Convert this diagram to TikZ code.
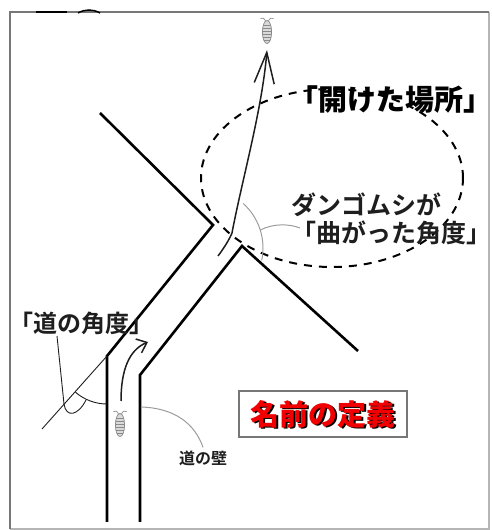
\documentclass[tikz,border=0pt]{standalone}
\usepackage{fontspec}
\usepackage{xcolor}
\usetikzlibrary{arrows.meta}
\newfontfamily\jpmid{Noto Sans CJK JP Medium}
\newfontfamily\jpbold{Noto Sans CJK JP Bold}
\newfontfamily\jpheavy{Noto Sans CJK JP Black}
\definecolor{PicFrame}{HTML}{777777}
\definecolor{PicEdge}{HTML}{B5B5B5}
\definecolor{PicGrey}{HTML}{9C9C9C}
\definecolor{PicInk}{HTML}{1E1E1E}
\definecolor{PicRed}{HTML}{F00000}
\definecolor{BugBody}{HTML}{DADADA}
\definecolor{BugLine}{HTML}{8A8A8A}

\tikzset{
  wall/.style={line width=2.6pt,line join=miter},
  track/.style={PicInk,line width=1.5pt,
    -{Straight Barb[length=9pt,width=15pt,line width=1.5pt]}},
  longtrack/.style={PicInk,line width=1.5pt,
    -{Straight Barb[length=31pt,width=20pt,line width=1.5pt]}},
  thinline/.style={PicInk,line width=0.9pt},
  greyline/.style={PicGrey,line width=1pt},
  openzone/.style={line width=2pt,dash pattern=on 8pt off 7pt},
  bug/.pic={
    \begin{scope}
      \clip (0,0) ellipse[x radius=4.6,y radius=11.5];
      \fill[BugBody] (-5,-12) rectangle (5,12);
      \foreach \k in {-8,-5,...,9}
        \draw[BugLine,line width=0.5pt] (-5,\k) -- (5,\k);
    \end{scope}
    \draw[BugLine,line width=0.7pt] (0,0) ellipse[x radius=4.6,y radius=11.5];
    \draw[BugLine,line width=0.7pt] (-1.5,11.3) .. controls (-2.5,14) and (-4.5,14.5) .. (-6.5,13.5);
    \draw[BugLine,line width=0.7pt] (1.5,11.3) .. controls (2.5,14) and (4.5,14.5) .. (6.5,13.5);
  }
}

\begin{document}
\begin{tikzpicture}[x=1pt,y=1pt]
\path[use as bounding box] (0,0) rectangle (491,530);
\draw[PicEdge,line width=1.2pt] (489,518) -- (489,1) -- (10,1);
\draw[PicFrame,line width=1.4pt] (10,1) -- (10,518) -- (489,518);
\draw[black,line width=2pt] (36,518) -- (67,518);
\draw[black,line width=1.5pt] (78,517) .. controls (85,521) and (93,521) .. (100,517);

\draw[wall] (107,8) -- (107,174) -- (213,305) -- (100,417);
\draw[wall] (140,8) -- (140,155) -- (242,284) -- (358,179);

\draw[openzone] (332,352) ellipse[x radius=131,y radius=89];

\pic at (120,105) {bug};
\pic at (267,498) {bug};

\coordinate (startpt) at (121,129);
\coordinate (turnpt) at (148,188);
\draw[track] (startpt) .. controls (121,160) and (129,180) .. (turnpt);

\coordinate (exitfoot) at (218,274);
\coordinate (exitbend) at (232,297);
\coordinate (exittop) at (267,480);
\draw[longtrack] (exitfoot) .. controls (224,282) and (229,290) .. (exitbend)
  .. controls (242,350) and (262,420) .. (exittop);

\coordinate (bendcentre) at (203,282);
\coordinate (bendmark) at (260.2,300);
\draw[greyline] (bendcentre) ++(48:60) arc[start angle=48,end angle=-12,radius=60];

\node[anchor=west,inner sep=0pt,text=black,font=\jpheavy\fontsize{29}{31}\selectfont] (openplace) at (289,430) {「開けた場所」};
\node[anchor=west,inner sep=0pt,align=left,text=PicInk,font=\jpbold\fontsize{25}{28}\selectfont] (turnangle) at (291,311) {ダンゴムシが\\「曲がった角度」};
\draw[greyline] (bendmark) .. controls (274,307) and (290,306) .. ([shift={(9,-9)}]turnangle.west);

\coordinate (corner) at (107,174);
\coordinate (farpt) at (42,101);
\coordinate (roadleg) at (57,194);
\coordinate (arcfoot) at (86,130);
\draw[thinline] (farpt) -- (corner);
\draw[thinline] (corner) ++(270:48) arc[start angle=270,end angle=229,radius=48];
\draw[thinline] (roadleg) -- (64,126) .. controls (66,112) and (78,114) .. (arcfoot);
\node[anchor=west,inner sep=0pt,text=PicInk,font=\jpbold\fontsize{24}{26}\selectfont] (roadangle) at (9,207) {「道の角度」};

\coordinate (wallpt) at (141,123);
\node[inner sep=0pt,text=PicInk,font=\jpbold\fontsize{16}{17}\selectfont] (wallname) at (203,72) {道の壁};
\draw[greyline] (wallpt) .. controls (175,122) and (195,106) .. ([yshift=3pt]wallname.north);

\node[draw=PicFrame,line width=1.4pt,fill=white,minimum width=168pt,minimum height=46pt] (namebox) at (323,116) {};
\node[inner sep=0pt,text=black,font=\jpheavy\fontsize{29}{30}\selectfont] (nameshade) at (324.5,114.5) {名前の定義};
\node[inner sep=0pt,text=PicRed,font=\jpheavy\fontsize{29}{30}\selectfont] (namedef) at (323,116) {名前の定義};
\end{tikzpicture}
\end{document}
